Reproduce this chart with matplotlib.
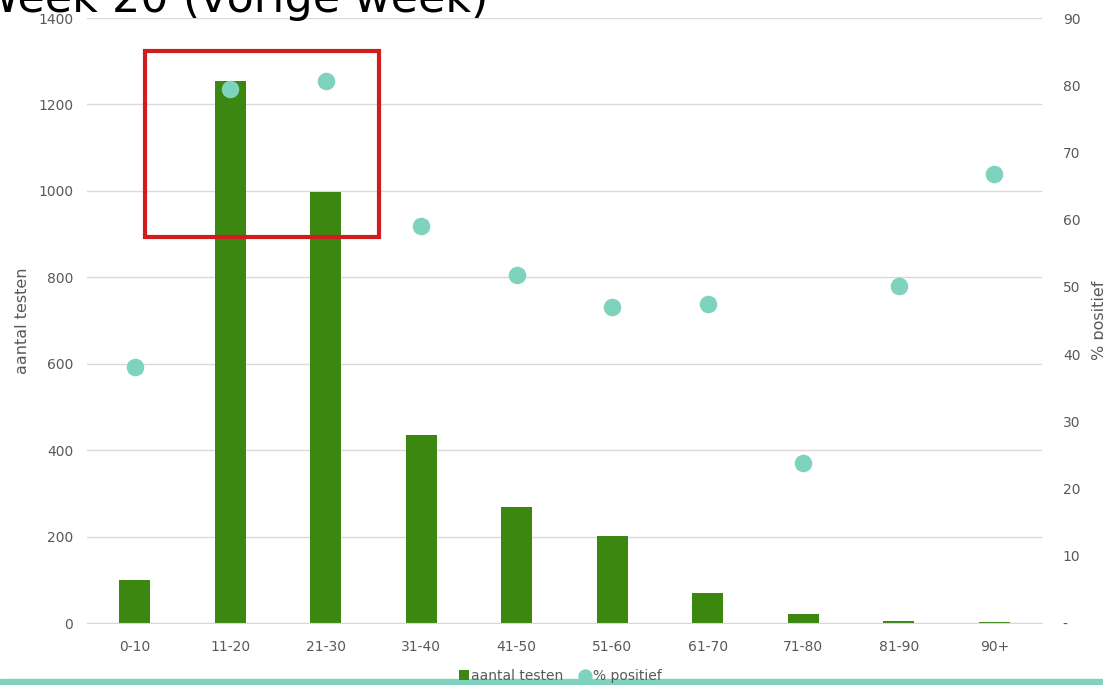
import numpy as np
import matplotlib.pyplot as plt
from matplotlib.patches import Rectangle

# data
leeftijd = ["0-10", "11-20", "21-30", "31-40", "41-50", "51-60", "61-70", "71-80", "81-90", "90+"]
aantal_testen = [100, 1254, 997, 435, 268, 201, 69, 21, 4, 2]
pct_positief = [38.1, 79.5, 80.7, 59.1, 51.8, 47.0, 47.5, 23.8, 50.1, 66.8]

left_ticks = [0, 200, 400, 600, 800, 1000, 1200, 1400]
right_ticks = [0, 10, 20, 30, 40, 50, 60, 70, 80, 90]

bar_color = "#3b870f"
dot_color = "#7dd3bd"
grey_txt = "#595959"
grid_color = "#d9d9d9"

fig = plt.figure(figsize=(11.03, 6.85), dpi=100)
ax = fig.add_axes([0.0789, 0.0905, 0.8658, 0.8832])
ax2 = ax.twinx()

x = np.arange(len(leeftijd))
ax.bar(x, aantal_testen, width=0.32, color=bar_color, zorder=2, label="aantal testen")
ax2.scatter(x, pct_positief, s=135, color=dot_color, zorder=3, label="% positief")

ax.set_xlim(-0.5, len(leeftijd) - 0.5)
ax.set_ylim(0, 1400)
ax.set_yticks(left_ticks)
ax2.set_ylim(0, 90)
ax2.set_yticks(right_ticks)
ax2.set_yticklabels(["-" if t == 0 else str(t) for t in right_ticks])

ax.set_xticks(x)
ax.set_xticklabels(leeftijd)
ax.grid(axis="y", color=grid_color, linewidth=1, zorder=0)
ax.set_axisbelow(True)

for a in (ax, ax2):
    for s in a.spines.values():
        s.set_visible(False)
ax.spines["bottom"].set_visible(True)
ax.spines["bottom"].set_color(grid_color)

ax.tick_params(axis="both", length=0, colors=grey_txt, labelsize=10)
ax.tick_params(axis="x", pad=12)
ax.tick_params(axis="y", pad=10)
ax2.tick_params(axis="y", length=0, colors=grey_txt, labelsize=10, pad=15)

ax.set_ylabel("aantal testen", color=grey_txt, fontsize=11.5, labelpad=6)
ax2.set_ylabel("% positief", color=grey_txt, fontsize=11.5, labelpad=8)

# red highlight box round 11-20 and 21-30
ax.add_patch(Rectangle((0.105, 893), 2.45, 431, fill=False, edgecolor="#d01c1c",
                       linewidth=3, zorder=5, clip_on=False))

# title, cut off at the top-left as in the slide
fig.text(0.4424, 0.9818, "Week 20 (vorige week)", fontsize=32, ha="right",
         va="baseline", color="black")

# teal band at the bottom of the slide
fig.patches.append(Rectangle((0, 0), 1, 0.009, transform=fig.transFigure,
                             color="#7dd3c0", zorder=0))

h1, l1 = ax.get_legend_handles_labels()
h2, l2 = ax2.get_legend_handles_labels()
fig.legend(h1 + h2, l1 + l2, loc="center", bbox_to_anchor=(0.508, 0.013), ncol=2,
           frameon=False, fontsize=10, labelcolor=grey_txt, handlelength=0.7,
           handletextpad=0.2, columnspacing=1.2, markerscale=0.8)

fig.savefig("out.png", dpi=100)
